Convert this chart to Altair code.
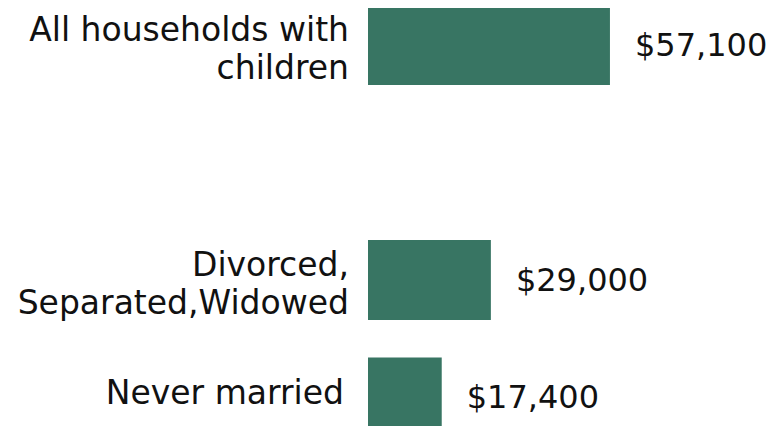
import altair as alt
import pandas as pd

categories = ["All households with|children", "Divorced,|Separated,Widowed", "Never married"]
values = [57100, 29000, 17400]
domain_order = ["All households with|children", " ", "Divorced,|Separated,Widowed", "Never married"]

df = pd.DataFrame({"cat": categories, "val": values})

FONT = "DejaVu Sans"
FS = 33
y_enc = alt.Y(
    "cat:N",
    axis=None,
    scale=alt.Scale(domain=domain_order, range=[-21.75, 448.25], paddingInner=0.319, paddingOuter=0.16),
)
x_scale = alt.Scale(domain=[0, 94400], nice=False, zero=True)

base = alt.Chart(df)

bars = base.mark_bar(color="#387563").encode(
    x=alt.X("val:Q", axis=None, scale=x_scale),
    y=y_enc,
)

values_text = base.mark_text(
    align="left", baseline="middle", dx=25, dy=1, font=FONT, fontSize=32, color="#111111"
).encode(
    x=alt.X("val:Q", scale=x_scale),
    y=y_enc,
    text=alt.Text("val:Q", format="$,.0f"),
)

labels_multi = base.transform_filter("indexof(datum.cat, '|') >= 0").mark_text(
    align="right", baseline="middle", font=FONT, fontSize=FS, color="#111111",
    lineBreak="|", lineHeight=38, dy=-14,
).encode(
    x=alt.value(-19),
    y=y_enc,
    text="cat:N",
)

labels_single = base.transform_filter("indexof(datum.cat, '|') < 0").mark_text(
    align="right", baseline="middle", font=FONT, fontSize=FS, color="#111111", dy=-3,
).encode(
    x=alt.value(-24),
    y=y_enc,
    text="cat:N",
)

chart = (bars + values_text + labels_multi + labels_single).properties(
    width=400,
    height=418,
    autosize=alt.AutoSizeParams(type="none"),
    padding={"left": 360, "top": 0, "right": 0, "bottom": 0},
).configure_view(stroke=None)

chart.save("out.html", embed_options={"renderer": "svg", "actions": False})
